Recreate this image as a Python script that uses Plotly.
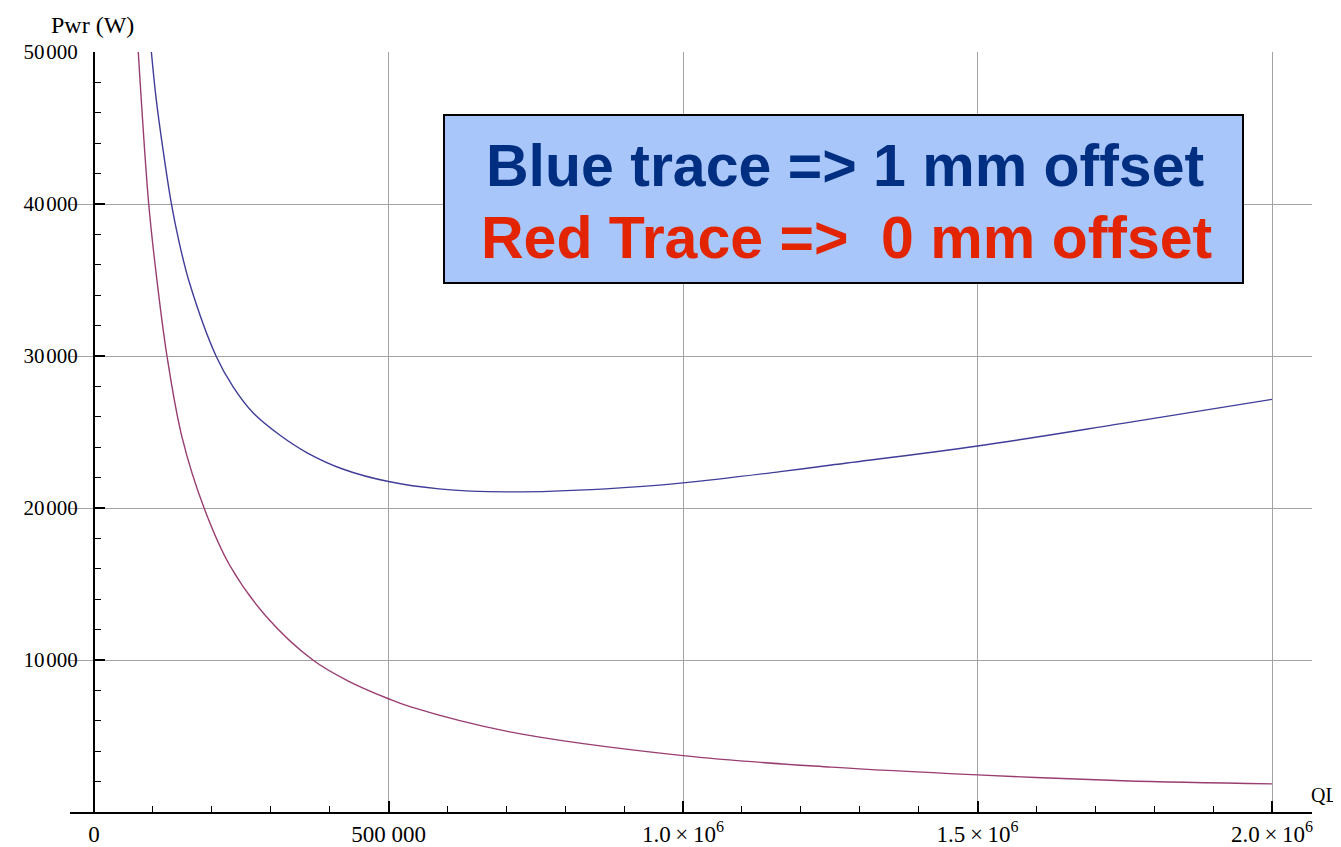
import plotly.graph_objects as go

# ---- data ----
blue_ql = [97400, 105300, 117100, 131200, 143600, 162200, 207200, 236500, 270300,
           315300, 361100, 423300, 500000, 585600, 700000, 868900, 1000000, 1165000,
           1252000, 1500000, 1746600, 2000000]
blue_pwr = [50000, 47000, 43600, 40050, 37650, 34800, 30000, 27950, 26250,
            24800, 23650, 22550, 21740, 21260, 21060, 21260, 21650, 22390,
            22830, 24080, 25570, 27150]

red_ql = [74900, 92900, 105900, 123900, 149200, 186900, 230900, 292800, 371600,
          430000, 500000, 536500, 703800, 1000000, 1252000, 1500000, 1746600, 2000000]
red_pwr = [50160, 40000, 35300, 30000, 24700, 20000, 16200, 12850, 10000,
           8650, 7450, 6930, 5290, 3710, 2950, 2440, 2060, 1850]

x_tick_vals = [0, 500000, 1000000, 1500000, 2000000]
x_tick_text = ["0", "500 000", "1.0\u2009×\u200910<sup>6</sup>",
               "1.5\u2009×\u200910<sup>6</sup>", "2.0\u2009×\u200910<sup>6</sup>"]
y_tick_vals = [10000, 20000, 30000, 40000, 50000]
y_tick_text = ["10\u200a000", "20\u200a000", "30\u200a000", "40\u200a000", "50\u200a000"]

x_range = [-40750, 2067900]
y_range = [0, 50000]

blue_color = "rgb(63,61,153)"
red_color = "rgb(153,61,113)"
serif = "Liberation Serif"

fig = go.Figure()
fig.add_trace(go.Scatter(x=blue_ql, y=blue_pwr, mode="lines",
                         line=dict(color=blue_color, width=1.4, shape="spline", smoothing=1.0)))
fig.add_trace(go.Scatter(x=red_ql, y=red_pwr, mode="lines",
                         line=dict(color=red_color, width=1.4, shape="spline", smoothing=1.0)))

# the page body adds an 8px offset; compensate so the plot lands where the reference has it
OFF = 8
WIN_W, WIN_H = 1341, 847
PLOT_L, PLOT_R, PLOT_T, PLOT_B = 70, 1312, 52, 812   # window pixels
W, H = WIN_W - OFF, WIN_H - OFF
L, T = PLOT_L - OFF, PLOT_T - OFF
R, B = WIN_W - PLOT_R, WIN_H - PLOT_B
pw, ph = PLOT_R - PLOT_L, PLOT_B - PLOT_T

def px(xp):
    return (xp - PLOT_L) / pw

def py(yp):
    return (PLOT_B - yp) / ph

grid_col = "#a3a3a3"
fig.update_layout(
    width=W, height=H,
    margin=dict(l=L, r=R, t=T, b=B, pad=0, autoexpand=False),
    paper_bgcolor="white", plot_bgcolor="white",
    showlegend=False,
    xaxis=dict(range=x_range, tickvals=x_tick_vals, ticktext=x_tick_text,
               automargin=False,
               ticks="inside", ticklen=11, tickwidth=1.5, tickcolor="black",
               showline=True, linecolor="black", linewidth=2,
               showgrid=True, gridcolor=grid_col, gridwidth=1.4, zeroline=False,
               minor=dict(dtick=100000, tick0=0, ticks="inside", ticklen=6,
                          tickcolor="black", tickwidth=1.3, showgrid=False),
               tickfont=dict(family=serif, size=23, color="black"),
               ticklabelstandoff=0),
    yaxis=dict(range=y_range, tickvals=y_tick_vals, ticktext=y_tick_text,
               automargin=False,
               anchor="free", position=(0 - x_range[0]) / (x_range[1] - x_range[0]),
               ticks="inside", ticklen=10, tickwidth=1.5, tickcolor="black",
               showline=True, linecolor="black", linewidth=2,
               showgrid=True, gridcolor=grid_col, gridwidth=1.4, zeroline=False,
               minor=dict(dtick=2000, tick0=0, ticks="inside", ticklen=6,
                          tickcolor="black", tickwidth=1.3, showgrid=False),
               tickfont=dict(family=serif, size=21, color="black"),
               ticklabelstandoff=11),
)

fig.add_shape(type="rect", xref="paper", yref="paper",
              x0=px(444), x1=px(1243), y0=py(283), y1=py(115),
              fillcolor="#a8c6fa", line=dict(color="black", width=2), layer="above")

fig.add_annotation(text="<b>Blue trace => 1 mm offset</b>", xref="paper", yref="paper",
                   x=px(845), y=py(166), xanchor="center", yanchor="middle", showarrow=False,
                   font=dict(family="Liberation Sans", size=59, color="#002e80"))
fig.add_annotation(text="<b>Red Trace =>\u00a0 0 mm offset</b>", xref="paper", yref="paper",
                   x=px(846), y=py(238), xanchor="center", yanchor="middle", showarrow=False,
                   font=dict(family="Liberation Sans", size=59, color="#e32400"))

fig.add_annotation(text="Pwr (W)", xref="paper", yref="paper", x=px(92), y=py(25),
                   xanchor="center", yanchor="middle", showarrow=False,
                   font=dict(family=serif, size=24, color="black"))
fig.add_annotation(text="QL", xref="paper", yref="paper", x=px(1340), y=py(795),
                   xanchor="right", yanchor="middle", showarrow=False,
                   font=dict(family=serif, size=20, color="black"))

fig.write_html("out.html")
